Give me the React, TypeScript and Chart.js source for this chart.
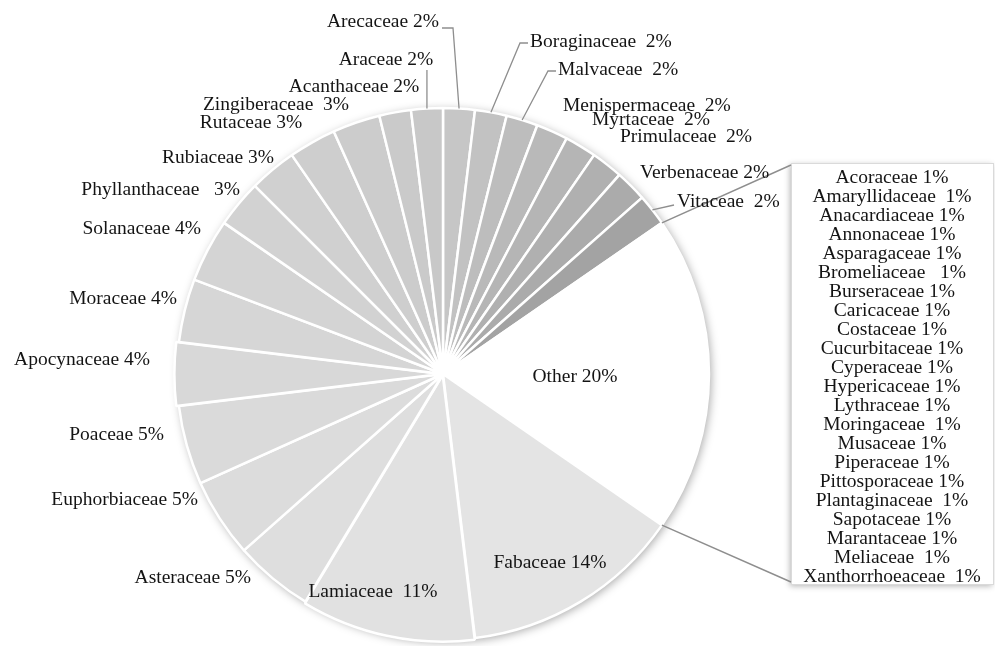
import { useEffect, useRef } from "react";
import { Chart, ArcElement, PieController } from "chart.js";

Chart.register(ArcElement, PieController);

// Plant families, clockwise from 12 o'clock, with their share of species (%)
const FAMILIES = [
  "Arecaceae", "Boraginaceae", "Malvaceae", "Menispermaceae", "Myrtaceae",
  "Primulaceae", "Verbenaceae", "Vitaceae", "Other", "Fabaceae", "Lamiaceae",
  "Asteraceae", "Euphorbiaceae", "Poaceae", "Apocynaceae", "Moraceae",
  "Solanaceae", "Phyllanthaceae", "Rubiaceae", "Rutaceae", "Zingiberaceae",
  "Acanthaceae", "Araceae",
];
const SHARES = [2, 2, 2, 2, 2, 2, 2, 2, 20, 14, 11, 5, 5, 5, 4, 4, 4, 3, 3, 3, 3, 2, 2];
const LABEL_GAPS = [1, 2, 2, 2, 2, 2, 1, 2, 1, 1, 2, 1, 1, 1, 1, 1, 1, 3, 1, 1, 2, 1, 1];

// Families grouped into "Other"
const OTHER_FAMILIES = [
  "Acoraceae", "Amaryllidaceae", "Anacardiaceae", "Annonaceae", "Asparagaceae",
  "Bromeliaceae", "Burseraceae", "Caricaceae", "Costaceae", "Cucurbitaceae",
  "Cyperaceae", "Hypericaceae", "Lythraceae", "Moringaceae", "Musaceae",
  "Piperaceae", "Pittosporaceae", "Plantaginaceae", "Sapotaceae", "Marantaceae",
  "Meliaceae", "Xanthorrhoeaceae",
];
const OTHER_SHARES = [1, 1, 1, 1, 1, 1, 1, 1, 1, 1, 1, 1, 1, 1, 1, 1, 1, 1, 1, 1, 1, 1];
const OTHER_GAPS = [1, 2, 1, 1, 1, 3, 1, 1, 1, 1, 1, 1, 1, 2, 1, 1, 1, 2, 1, 1, 2, 2];

const SLICE_COLORS = [
  "#c6c6c6", "#c2c2c2", "#bdbdbd", "#b9b9b9", "#b5b5b5", "#b0b0b0", "#ababab",
  "#a3a3a3", "#ffffff", "#e4e4e4", "#e1e1e1", "#dedede", "#dcdcdc", "#dadada",
  "#d8d8d8", "#d6d6d6", "#d4d4d4", "#d2d2d2", "#d0d0d0", "#cecece", "#cccccc",
  "#cacaca", "#c8c8c8",
];
const SLICE_OFFSETS = [0, 0, 0, 0, 0, 0, 0, 0, 0, 0, 5, 0, 0, 0, 6, 0, 0, 0, 0, 0, 0, 0, 0];

// Label placement relative to the pie centre: [dx, dy, align, leader]
type Leader = "none" | "elbowR" | "elbowL" | "vertical" | "direct";
const LABEL_PLACES: [number, number, CanvasTextAlign, Leader][] = [
  [-4, -352, "right", "elbowR"],
  [87, -332, "left", "elbowL"],
  [115, -304, "left", "elbowL"],
  [120, -268, "left", "none"],
  [149, -254, "left", "none"],
  [177, -237, "left", "none"],
  [197, -201, "left", "none"],
  [234, -172, "left", "direct"],
  [132, 3, "center", "none"],
  [107, 189, "center", "none"],
  [-70, 218, "center", "none"],
  [-192, 204, "right", "none"],
  [-245, 126, "right", "none"],
  [-279, 61, "right", "none"],
  [-293, -14, "right", "none"],
  [-266, -75, "right", "none"],
  [-242, -145, "right", "none"],
  [-203, -184, "right", "none"],
  [-225, -216, "center", "none"],
  [-192, -251, "center", "none"],
  [-167, -269, "center", "none"],
  [-89, -287, "center", "none"],
  [-57, -314, "center", "vertical"],
];

// "Other" breakdown box, relative to the pie centre
const BOX = { dx: 348, dy: -211, w: 202, h: 421, firstLine: 15, lineStep: 19 };

const FONT = '19.5px "Liberation Serif", "Times New Roman", serif';
const TEXT_COLOR = "#141414";
const LEADER_COLOR = "#8e8e8e";

const pieDecor = {
  id: "pieDecor",
  beforeDatasetsDraw(chart: any) {
    const ctx: CanvasRenderingContext2D = chart.ctx;
    const arc = chart.getDatasetMeta(0).data[0];
    const { x, y, outerRadius } = arc.getProps(["x", "y", "outerRadius"], true);
    ctx.save();
    ctx.shadowColor = "rgba(0,0,0,0.35)";
    ctx.shadowBlur = 10;
    ctx.shadowOffsetX = 2;
    ctx.shadowOffsetY = 2;
    ctx.beginPath();
    ctx.arc(x, y, outerRadius, 0, Math.PI * 2);
    ctx.fillStyle = "#ffffff";
    ctx.fill();
    ctx.restore();
  },
  afterDatasetsDraw(chart: any) {
    const ctx: CanvasRenderingContext2D = chart.ctx;
    const meta = chart.getDatasetMeta(0);
    const first = meta.data[0].getProps(["x", "y"], true);
    const cx = first.x;
    const cy = first.y;

    // breakdown box for "Other"
    const bx = cx + BOX.dx;
    const by = cy + BOX.dy;
    ctx.save();
    ctx.shadowColor = "rgba(0,0,0,0.3)";
    ctx.shadowBlur = 6;
    ctx.shadowOffsetX = -1;
    ctx.shadowOffsetY = 2;
    ctx.fillStyle = "#ffffff";
    ctx.fillRect(bx, by, BOX.w, BOX.h);
    ctx.restore();
    ctx.save();
    ctx.strokeStyle = "#dadada";
    ctx.lineWidth = 1;
    ctx.strokeRect(bx + 0.5, by + 0.5, BOX.w, BOX.h);
    ctx.restore();

    // connectors from the "Other" slice to the box
    const otherIdx = FAMILIES.indexOf("Other");
    const oa = meta.data[otherIdx].getProps(["x", "y", "startAngle", "endAngle", "outerRadius"], true);
    ctx.save();
    ctx.strokeStyle = LEADER_COLOR;
    ctx.lineWidth = 1.5;
    ctx.beginPath();
    ctx.moveTo(oa.x + Math.cos(oa.startAngle) * oa.outerRadius, oa.y + Math.sin(oa.startAngle) * oa.outerRadius);
    ctx.lineTo(bx, by + 2);
    ctx.moveTo(oa.x + Math.cos(oa.endAngle) * oa.outerRadius, oa.y + Math.sin(oa.endAngle) * oa.outerRadius);
    ctx.lineTo(bx, by + BOX.h - 2);
    ctx.stroke();
    ctx.restore();

    ctx.save();
    ctx.font = FONT;
    ctx.textBaseline = "middle";

    // slice labels with leader lines
    meta.data.forEach((el: any, i: number) => {
      const p = el.getProps(["x", "y", "startAngle", "endAngle", "outerRadius"], true);
      const [dx, dy, align, leader] = LABEL_PLACES[i];
      const tx = cx + dx;
      const ty = cy + dy;
      const text = FAMILIES[i] + " ".repeat(LABEL_GAPS[i]) + SHARES[i] + "%";
      const mid = (p.startAngle + p.endAngle) / 2;
      const off = SLICE_OFFSETS[i];
      const ax = p.x + Math.cos(mid) * (p.outerRadius + off);
      const ay = p.y + Math.sin(mid) * (p.outerRadius + off);
      ctx.strokeStyle = LEADER_COLOR;
      ctx.lineWidth = 1.3;
      if (leader !== "none") {
        ctx.beginPath();
        ctx.moveTo(ax, ay);
        if (leader === "elbowR") {
          ctx.lineTo(tx + 14, ty + 6);
          ctx.lineTo(tx + 3, ty + 6);
        } else if (leader === "elbowL") {
          ctx.lineTo(tx - 10, ty + 1);
          ctx.lineTo(tx - 2, ty + 1);
        } else if (leader === "vertical") {
          ctx.lineTo(ax, ty + 10);
        } else if (leader === "direct") {
          ctx.lineTo(tx - 3, ty + 3);
        }
        ctx.stroke();
      }
      ctx.fillStyle = TEXT_COLOR;
      ctx.textAlign = align;
      ctx.fillText(text, tx, ty);
    });

    // box contents
    ctx.textAlign = "center";
    ctx.fillStyle = TEXT_COLOR;
    OTHER_FAMILIES.forEach((name, i) => {
      const text = name + " ".repeat(OTHER_GAPS[i]) + OTHER_SHARES[i] + "%";
      ctx.fillText(text, bx + BOX.w / 2, by + BOX.firstLine + i * BOX.lineStep);
    });
    ctx.restore();
  },
};

export default function App() {
  const canvasRef = useRef<HTMLCanvasElement | null>(null);

  useEffect(() => {
    if (!canvasRef.current) return;
    const chart = new Chart(canvasRef.current, {
      type: "pie",
      data: {
        labels: FAMILIES,
        datasets: [
          {
            data: SHARES,
            backgroundColor: SLICE_COLORS,
            borderColor: "#ffffff",
            borderWidth: 2.5,
            offset: SLICE_OFFSETS,
            radius: 266,
          } as any,
        ],
      },
      options: {
        responsive: false,
        animation: false,
        events: [],
        layout: { padding: { left: 0, right: 109, top: 102, bottom: 0 } },
        plugins: {
          legend: { display: false },
          tooltip: { enabled: false },
        },
      },
      plugins: [pieDecor],
    });
    return () => chart.destroy();
  }, []);

  return (
    <div style={{ position: "absolute", left: 0, top: 0, width: 995, height: 646, background: "#ffffff" }}>
      <canvas ref={canvasRef} width={995} height={646} style={{ display: "block" }} />
    </div>
  );
}
